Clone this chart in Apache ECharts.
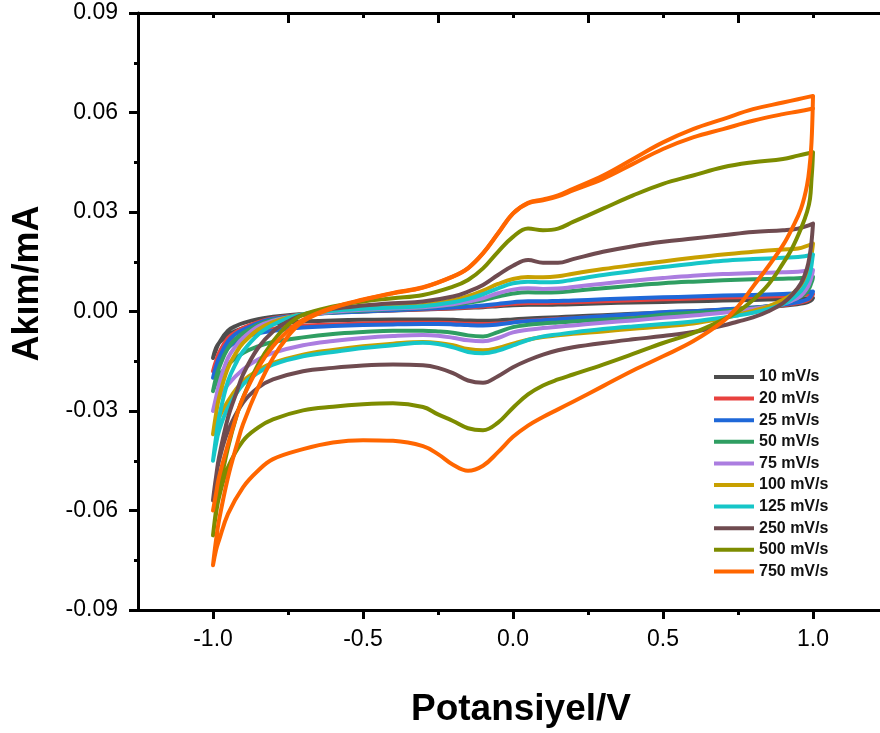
<!DOCTYPE html>
<html>
<head>
<meta charset="utf-8">
<title>Döngüsel voltametri</title>
<script src="https://cdn.jsdelivr.net/npm/echarts@6/dist/echarts.min.js"></script>
<style>
  html, body { margin: 0; padding: 0; background: #ffffff; }
  #chart { width: 880px; height: 733px; }
</style>
</head>
<body>
<div id="chart"></div>
<script>
// Potential grids (V): anodic sweep -1 → +1, cathodic sweep back to -1
const potentialFwd = [-1.0, -0.99, -0.98, -0.95, -0.92, -0.9, -0.85, -0.8, -0.75, -0.7, -0.6, -0.5, -0.4, -0.3, -0.2, -0.15, -0.1, -0.05, 0, 0.05, 0.1, 0.15, 0.2, 0.3, 0.4, 0.5, 0.6, 0.7, 0.8, 0.9, 0.95, 1.0];
const potentialRev = [0.998, 0.995, 0.99, 0.98, 0.96, 0.93, 0.9, 0.85, 0.8, 0.75, 0.7, 0.6, 0.5, 0.4, 0.3, 0.2, 0.15, 0.1, 0.05, 0, -0.05, -0.1, -0.15, -0.2, -0.25, -0.3, -0.4, -0.5, -0.6, -0.7, -0.8, -0.85, -0.9, -0.95, -0.98, -0.99, -1.0];

// Scan rates (legend)
const scanRates = ['10 mV/s', '20 mV/s', '25 mV/s', '50 mV/s', '75 mV/s', '100 mV/s', '125 mV/s', '250 mV/s', '500 mV/s', '750 mV/s'];
const rateColors = ['#4d4d4d', '#e8413e', '#1f68d8', '#2f9e62', '#ab7de0', '#c8a000', '#16c6c8', '#6f4b50', '#7d8c00', '#ff6600'];

// Current (mA) along the anodic sweep
const fwd10  = [-0.014, -0.0115, -0.0095, -0.0058, -0.0042, -0.0035, -0.0023, -0.0016, -0.0011, -0.0008, -0.0003, 0.0, 0.0003, 0.0006, 0.0009, 0.0011, 0.0013, 0.0016, 0.0019, 0.002, 0.002, 0.0021, 0.0022, 0.0025, 0.0027, 0.0029, 0.0031, 0.0033, 0.0035, 0.0037, 0.0038, 0.0041];
const fwd20  = [-0.018, -0.015, -0.0125, -0.008, -0.006, -0.005, -0.0032, -0.002, -0.0014, -0.0009, -0.0003, 0.0001, 0.0004, 0.0007, 0.001, 0.0012, 0.0015, 0.0019, 0.0023, 0.0026, 0.0026, 0.0027, 0.0028, 0.0031, 0.0034, 0.0037, 0.0039, 0.0042, 0.0044, 0.0047, 0.0049, 0.0053];
const fwd25  = [-0.020, -0.0165, -0.014, -0.009, -0.0065, -0.0055, -0.0035, -0.0022, -0.0015, -0.001, -0.0004, 0.0, 0.0004, 0.0008, 0.0012, 0.0015, 0.0018, 0.0023, 0.0028, 0.0031, 0.0031, 0.0032, 0.0033, 0.0037, 0.004, 0.0043, 0.0045, 0.0048, 0.005, 0.0053, 0.0055, 0.006];
const fwd50  = [-0.024, -0.020, -0.017, -0.011, -0.008, -0.0065, -0.004, -0.0025, -0.0017, -0.001, -0.0002, 0.0003, 0.0008, 0.0012, 0.002, 0.0026, 0.0034, 0.0045, 0.0054, 0.0058, 0.0057, 0.0058, 0.0062, 0.007, 0.0078, 0.0085, 0.009, 0.0094, 0.0097, 0.0099, 0.010, 0.0105];
const fwd75  = [-0.030, -0.026, -0.022, -0.014, -0.010, -0.008, -0.0045, -0.0028, -0.0018, -0.001, -0.0001, 0.0005, 0.0009, 0.0013, 0.0022, 0.003, 0.004, 0.0055, 0.0066, 0.007, 0.0068, 0.0069, 0.0074, 0.0084, 0.0093, 0.0101, 0.0108, 0.0113, 0.0116, 0.0118, 0.012, 0.0125];
const fwd100 = [-0.037, -0.031, -0.026, -0.017, -0.012, -0.0095, -0.0055, -0.0032, -0.0018, -0.0008, 0.0003, 0.001, 0.0015, 0.002, 0.0034, 0.0046, 0.0063, 0.0083, 0.0098, 0.0104, 0.0103, 0.0106, 0.0114, 0.0128, 0.014, 0.0151, 0.0162, 0.0172, 0.018, 0.0187, 0.019, 0.0205];
const fwd125 = [-0.045, -0.038, -0.032, -0.021, -0.015, -0.012, -0.007, -0.004, -0.002, -0.0008, 0.0002, 0.0008, 0.0012, 0.0016, 0.0028, 0.0038, 0.0052, 0.007, 0.0085, 0.009, 0.0088, 0.0089, 0.0096, 0.011, 0.0122, 0.0134, 0.0144, 0.0153, 0.0158, 0.0162, 0.0164, 0.0172];
const fwd250 = [-0.057, -0.050, -0.044, -0.032, -0.024, -0.019, -0.011, -0.006, -0.003, -0.001, 0.0008, 0.0018, 0.0025, 0.003, 0.0045, 0.006, 0.008, 0.011, 0.0138, 0.0155, 0.0147, 0.0147, 0.0158, 0.018, 0.0197, 0.021, 0.022, 0.023, 0.024, 0.0245, 0.025, 0.0265];
const fwd500 = [-0.0675, -0.060, -0.054, -0.041, -0.031, -0.026, -0.016, -0.009, -0.004, -0.001, 0.0015, 0.003, 0.004, 0.005, 0.0075, 0.0095, 0.013, 0.018, 0.0225, 0.025, 0.0245, 0.025, 0.027, 0.031, 0.035, 0.0385, 0.041, 0.0435, 0.045, 0.046, 0.047, 0.048];
const fwd750 = [-0.0765, -0.069, -0.063, -0.050, -0.040, -0.034, -0.023, -0.014, -0.0075, -0.003, 0.001, 0.0035, 0.0055, 0.0072, 0.0105, 0.013, 0.0175, 0.0235, 0.0295, 0.0328, 0.0338, 0.035, 0.037, 0.041, 0.046, 0.051, 0.055, 0.058, 0.061, 0.063, 0.064, 0.065];
// second anodic sweep recorded at 750 mV/s
const fwd750b = [-0.060, -0.055, -0.050, -0.040, -0.031, -0.026, -0.017, -0.0105, -0.0058, -0.0025, 0.0012, 0.0036, 0.0056, 0.0073, 0.0106, 0.0131, 0.0176, 0.0236, 0.0296, 0.0326, 0.0335, 0.0347, 0.0365, 0.040, 0.0445, 0.049, 0.0525, 0.055, 0.0575, 0.0595, 0.0603, 0.0612];

// Current (mA) along the cathodic sweep
const rev10  = [0.0038, 0.0035, 0.0032, 0.0028, 0.0024, 0.002, 0.0017, 0.0013, 0.001, 0.0007, 0.0005, 0.0001, -0.0003, -0.0007, -0.0011, -0.0015, -0.0017, -0.0019, -0.0021, -0.0024, -0.0027, -0.0028, -0.0027, -0.0025, -0.0024, -0.0024, -0.0024, -0.0025, -0.0027, -0.003, -0.0036, -0.0042, -0.005, -0.007, -0.0095, -0.011, -0.014];
const rev20  = [0.0049, 0.0045, 0.0039, 0.0033, 0.0028, 0.0023, 0.0019, 0.0015, 0.0011, 0.0008, 0.0005, 0.0, -0.0005, -0.001, -0.0015, -0.002, -0.0022, -0.0025, -0.0028, -0.0032, -0.0036, -0.0038, -0.0037, -0.0035, -0.0034, -0.0034, -0.0034, -0.0036, -0.0039, -0.0043, -0.0052, -0.006, -0.0072, -0.0098, -0.013, -0.015, -0.018];
const rev25  = [0.0056, 0.005, 0.0043, 0.0036, 0.003, 0.0025, 0.0021, 0.0016, 0.0012, 0.0009, 0.0006, 0.0001, -0.0002, -0.0008, -0.0014, -0.002, -0.0023, -0.0026, -0.0029, -0.0033, -0.0039, -0.0042, -0.0041, -0.0039, -0.0038, -0.0038, -0.0039, -0.0041, -0.0044, -0.0048, -0.0058, -0.0066, -0.008, -0.011, -0.015, -0.017, -0.020];
const rev50  = [0.0095, 0.0088, 0.0075, 0.006, 0.0045, 0.0033, 0.0025, 0.0016, 0.001, 0.0005, 0.0, -0.0004, -0.001, -0.002, -0.0025, -0.003, -0.0033, -0.0036, -0.004, -0.0047, -0.0062, -0.0075, -0.0072, -0.0064, -0.006, -0.0058, -0.0058, -0.0062, -0.0068, -0.0078, -0.0092, -0.0105, -0.0125, -0.016, -0.0195, -0.0215, -0.024];
const rev75  = [0.0115, 0.0105, 0.009, 0.007, 0.0048, 0.0033, 0.0024, 0.0015, 0.0008, 0.0002, -0.0004, -0.0012, -0.0019, -0.0027, -0.0034, -0.0042, -0.0046, -0.005, -0.0055, -0.0063, -0.008, -0.009, -0.0087, -0.0079, -0.0073, -0.0071, -0.0074, -0.008, -0.0089, -0.0102, -0.0125, -0.0145, -0.0175, -0.022, -0.026, -0.028, -0.030];
const rev100 = [0.019, 0.017, 0.0145, 0.0115, 0.008, 0.0052, 0.0035, 0.0015, 0.0002, -0.001, -0.002, -0.0036, -0.0045, -0.0052, -0.006, -0.0067, -0.0072, -0.0077, -0.0085, -0.0097, -0.011, -0.0117, -0.0113, -0.0102, -0.0095, -0.0092, -0.0097, -0.0105, -0.0116, -0.013, -0.0155, -0.0178, -0.021, -0.027, -0.032, -0.034, -0.037];
const rev125 = [0.016, 0.014, 0.0115, 0.009, 0.0062, 0.0038, 0.0022, 0.0007, -0.0004, -0.0012, -0.0019, -0.003, -0.0038, -0.0045, -0.0053, -0.0063, -0.0069, -0.0075, -0.0086, -0.0102, -0.0118, -0.0126, -0.0122, -0.0108, -0.0098, -0.0094, -0.0102, -0.011, -0.0122, -0.0135, -0.016, -0.0185, -0.022, -0.029, -0.036, -0.040, -0.045];
const rev250 = [0.024, 0.021, 0.0175, 0.013, 0.0085, 0.005, 0.0025, 0.0, -0.0018, -0.003, -0.0042, -0.0062, -0.0074, -0.0084, -0.0095, -0.0108, -0.0117, -0.013, -0.0147, -0.0168, -0.0195, -0.0215, -0.0208, -0.0186, -0.017, -0.0162, -0.016, -0.0163, -0.017, -0.018, -0.0205, -0.023, -0.0275, -0.036, -0.045, -0.050, -0.057];
const rev500 = [0.044, 0.040, 0.034, 0.030, 0.025, 0.019, 0.0145, 0.008, 0.0035, 0.0, -0.0025, -0.0065, -0.0095, -0.0128, -0.016, -0.019, -0.0205, -0.0223, -0.025, -0.029, -0.0335, -0.0358, -0.0352, -0.033, -0.031, -0.0288, -0.0277, -0.028, -0.0287, -0.0298, -0.0325, -0.035, -0.039, -0.047, -0.056, -0.061, -0.0675];
const rev750 = [0.058, 0.051, 0.045, 0.038, 0.031, 0.025, 0.020, 0.0135, 0.0075, 0.0015, -0.003, -0.009, -0.0135, -0.0178, -0.0225, -0.0272, -0.0295, -0.0318, -0.0344, -0.0378, -0.0424, -0.0465, -0.048, -0.0462, -0.043, -0.0406, -0.039, -0.0388, -0.0395, -0.0415, -0.0445, -0.048, -0.053, -0.061, -0.069, -0.072, -0.0765];

const sweepsFwd = [fwd10, fwd20, fwd25, fwd50, fwd75, fwd100, fwd125, fwd250, fwd500, fwd750];
const sweepsRev = [rev10, rev20, rev25, rev50, rev75, rev100, rev125, rev250, rev500, rev750];

// Axis ticks (V); the frame is cut at the right edge of the canvas
const xMajorTicks = [-1.0, -0.5, 0.0, 0.5, 1.0];
const xMinorTicks = [-0.75, -0.25, 0.25, 0.75];
const xMin = -1.25;
const xMax = 1.2233;

function pairUp(xs, ys) {
  return xs.map((x, i) => [x, ys[i]]);
}

const FONT = '"Liberation Sans", Arial, sans-serif';
const AXIS_COLOR = '#000000';
const LINE_W = 4;

const series = scanRates.map((name, k) => ({
  name: name,
  type: 'line',
  data: pairUp(potentialFwd, sweepsFwd[k]).concat(pairUp(potentialRev, sweepsRev[k])),
  showSymbol: false,
  smooth: 0.4,
  color: rateColors[k],
  lineStyle: { width: LINE_W, color: rateColors[k], cap: 'round', join: 'round' },
  emphasis: { disabled: true },
  z: 2 + k
}));
series.push({
  name: '750 mV/s',
  type: 'line',
  data: pairUp(potentialFwd, fwd750b),
  showSymbol: false,
  smooth: 0.4,
  color: rateColors[9],
  lineStyle: { width: LINE_W, color: rateColors[9], cap: 'round', join: 'round' },
  emphasis: { disabled: true },
  z: 11
});

const hidden = { show: false };

const option = {
  animation: false,
  backgroundColor: '#ffffff',
  textStyle: { fontFamily: FONT },
  grid: { left: 138, top: 13, width: 742, height: 600, containLabel: false },
  legend: {
    data: scanRates,
    orient: 'vertical',
    left: 709,
    top: 364,
    icon: 'rect',
    itemWidth: 40,
    itemHeight: 4,
    itemGap: 5.6,
    textStyle: { fontFamily: FONT, fontSize: 16, lineHeight: 16, fontWeight: 'bold', color: '#111111' },
    selectedMode: false
  },
  xAxis: [
    {
      type: 'value', position: 'bottom', min: xMin, max: xMax,
      name: 'Potansiyel/V', nameLocation: 'middle', nameGap: 81,
      nameTextStyle: { fontFamily: FONT, fontSize: 37, fontWeight: 'bold', color: '#000', padding: [0, 0, 0, 24] },
      axisLine: { show: true, onZero: false, lineStyle: { color: AXIS_COLOR, width: 3 } },
      axisTick: { show: true, inside: false, length: 9, customValues: xMajorTicks, lineStyle: { color: AXIS_COLOR, width: 3 } },
      axisLabel: { show: true, customValues: xMajorTicks, margin: 18, fontFamily: FONT, fontSize: 23, color: '#000',
                   formatter: v => v.toFixed(1) },
      splitLine: hidden
    },
    {
      type: 'value', position: 'bottom', min: xMin, max: xMax,
      axisLine: { show: false, onZero: false },
      axisTick: { show: true, inside: false, length: 5, customValues: xMinorTicks, lineStyle: { color: AXIS_COLOR, width: 3 } },
      axisLabel: hidden, splitLine: hidden
    },
    {
      type: 'value', position: 'top', min: xMin, max: xMax,
      axisLine: { show: true, onZero: false, lineStyle: { color: AXIS_COLOR, width: 3 } },
      axisTick: { show: true, inside: true, length: 10, customValues: xMinorTicks, lineStyle: { color: AXIS_COLOR, width: 3 } },
      axisLabel: hidden, splitLine: hidden
    },
    {
      type: 'value', position: 'top', min: xMin, max: xMax,
      axisLine: { show: false, onZero: false },
      axisTick: { show: true, inside: true, length: 5, customValues: xMajorTicks, lineStyle: { color: AXIS_COLOR, width: 3 } },
      axisLabel: hidden, splitLine: hidden
    }
  ],
  yAxis: [
    {
      type: 'value', position: 'left', min: -0.09, max: 0.09, interval: 0.03,
      name: 'Akım/mA', nameLocation: 'middle', nameGap: 92,
      nameTextStyle: { fontFamily: FONT, fontSize: 36, fontWeight: 'bold', color: '#000', padding: [0, 0, 0, 56] },
      axisLine: { show: true, onZero: false, lineStyle: { color: AXIS_COLOR, width: 3 } },
      axisTick: { show: true, inside: false, length: 9, lineStyle: { color: AXIS_COLOR, width: 3 } },
      minorTick: { show: true, splitNumber: 2, length: 4, lineStyle: { color: AXIS_COLOR, width: 3 } },
      axisLabel: { show: true, margin: 20, fontFamily: FONT, fontSize: 23, color: '#000',
                   formatter: v => v.toFixed(2) },
      splitLine: hidden, minorSplitLine: hidden
    }
  ],
  series: series
};

const chart = echarts.init(document.getElementById('chart'), null, { renderer: 'canvas' });
chart.setOption(option);
</script>
</body>
</html>
